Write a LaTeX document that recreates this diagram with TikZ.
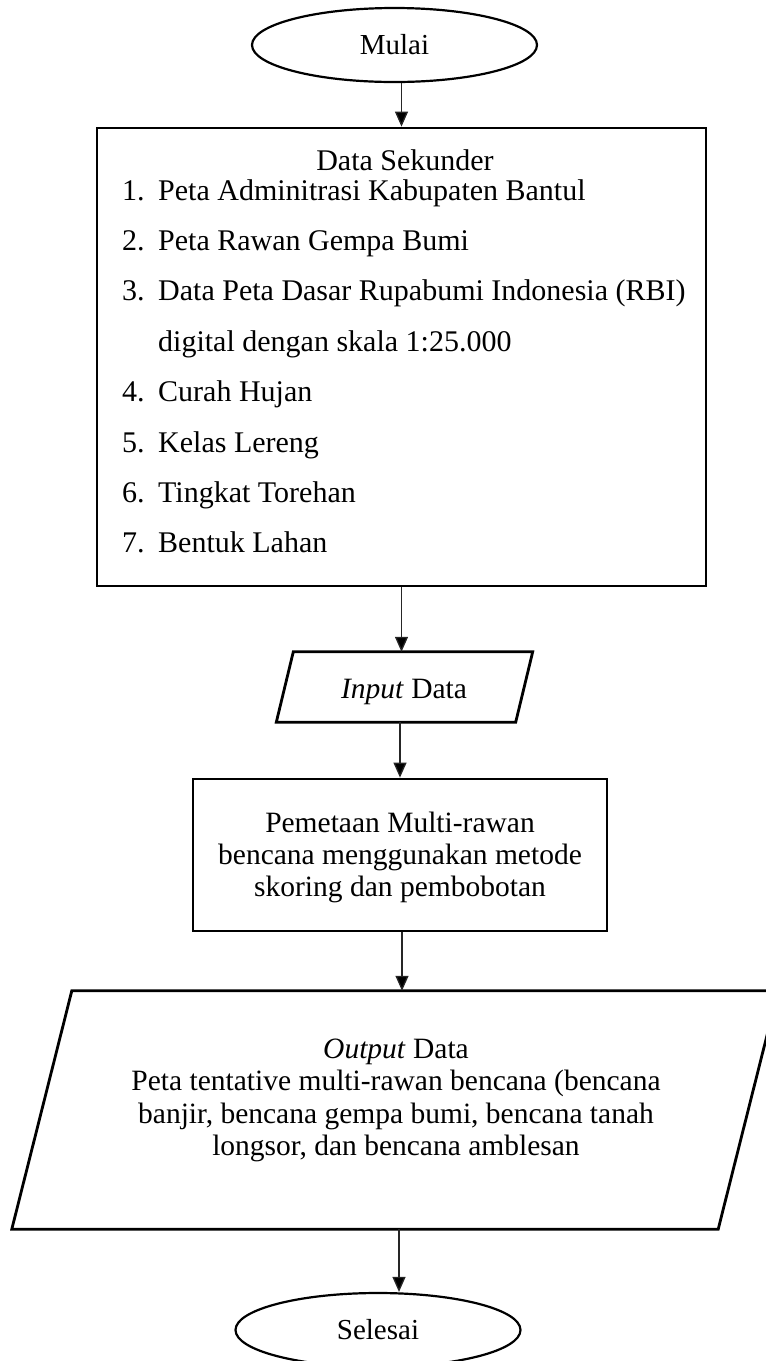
\documentclass[tikz,border=0pt]{standalone}
\usepackage{fontspec}
\setmainfont{Liberation Serif}
\usetikzlibrary{shapes.geometric,arrows.meta}
\begin{document}
\begin{tikzpicture}[x=1pt,y=-1pt,
  txt/.style={font=\fontsize{29.5}{32}\selectfont, inner sep=0pt},
  item/.style={font=\fontsize{30}{32}\selectfont, inner sep=0pt, anchor=base west},
  box/.style={draw, line width=2.8pt, inner sep=0pt},
  term/.style={draw, ellipse, line width=2.2pt, minimum width=285pt, minimum height=74pt, inner sep=0pt, font=\fontsize{29}{32}\selectfont},
  arr/.style={line width=1.3pt, draw=black!85, -{Triangle[length=15pt,width=13pt,fill=black]}},
  shapeline/.style={line width=2.8pt, line join=miter}
]
\useasboundingbox (0,0) rectangle (766,1361);
\clip (0,0) rectangle (766,1361);

% start
\node[term] (mulai) at (394.5,45) {Mulai};

% secondary data box
\node[box, minimum width=609pt, minimum height=458pt] (sek) at (401.5,357) {};
\node[item, anchor=base] (title) at (405,170) {Data Sekunder};
\node[item] (n1) at (122,200) {1.};
\node[item] (t1) at (158,200) {Peta Adminitrasi Kabupaten Bantul};
\node[item] (n2) at (122,250.4) {2.};
\node[item] (t2) at (158,250.4) {Peta Rawan Gempa Bumi};
\node[item] (n3) at (122,300.8) {3.};
\node[item] (t3) at (158,300.8) {Data Peta Dasar Rupabumi Indonesia (RBI)};
\node[item] (t3b) at (158,351.2) {digital dengan skala 1:25.000};
\node[item] (n4) at (122,401.6) {4.};
\node[item] (t4) at (158,401.6) {Curah Hujan};
\node[item] (n5) at (122,452) {5.};
\node[item] (t5) at (158,452) {Kelas Lereng};
\node[item] (n6) at (122,502.4) {6.};
\node[item] (t6) at (158,502.4) {Tingkat Torehan};
\node[item] (n7) at (122,552.8) {7.};
\node[item] (t7) at (158,552.8) {Bentuk Lahan};

% input data
\node[inner sep=0pt, minimum width=239pt, minimum height=70pt] (inp) at (404.5,687) {};
\draw[shapeline] ([xshift=8.5pt]inp.north west) -- ([xshift=8.5pt]inp.north east)
  -- ([xshift=-8.5pt]inp.south east) -- ([xshift=-8.5pt]inp.south west) -- cycle;
\node[txt, anchor=base] (inptxt) at (404,698) {\textit{Input} Data};

% process
\node[box, minimum width=414pt, minimum height=152pt] (proc) at (400,855) {};
\node[txt, align=center, anchor=base] (proctxt) at (400,896)
  {Pemetaan Multi-rawan\\bencana menggunakan metode\\skoring dan pembobotan};

% output data
\node[inner sep=0pt, minimum width=706pt, minimum height=238pt] (outp) at (395,1110) {};
\draw[shapeline] ([xshift=30pt]outp.north west) -- ([xshift=30pt]outp.north east)
  -- ([xshift=-30pt]outp.south east) -- ([xshift=-30pt]outp.south west) -- cycle;
\node[txt, align=center, anchor=base, font=\fontsize{29.5}{32.5}\selectfont] (outtxt) at (396,1155.5)
  {\textit{Output} Data\\Peta tentative multi-rawan bencana (bencana\\banjir, bencana gempa bumi, bencana tanah\\longsor, dan bencana amblesan};

% end
\node[term] (sel) at (378,1330) {Selesai};

% connectors
\draw[arr] (mulai.south -| sek.north) -- (sek.north);
\draw[arr] (sek.south) -- (sek.south |- inp.north);
\draw[arr] (inp.south -| proc.north) -- (proc.north);
\draw[arr] ([xshift=2pt]proc.south) -- ([xshift=2pt]proc.south |- outp.north);
\draw[arr] ([xshift=4pt]outp.south) -- ([xshift=4pt]outp.south |- sel.north);
\end{tikzpicture}
\end{document}
